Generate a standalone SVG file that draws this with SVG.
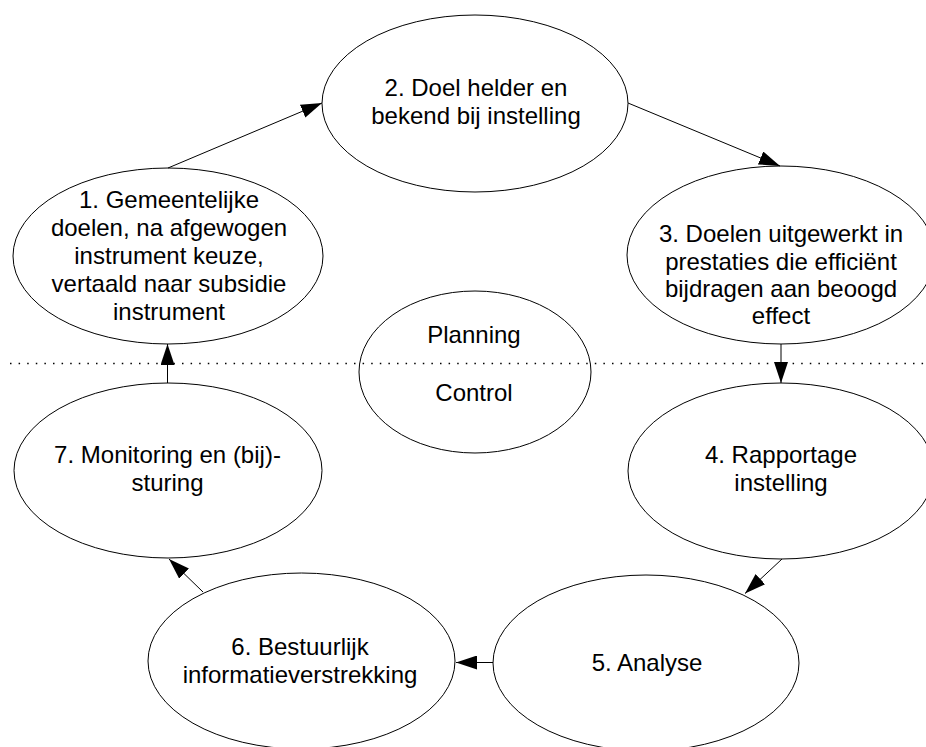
<svg xmlns="http://www.w3.org/2000/svg" width="926" height="747" viewBox="0 0 926 747">
<style>
.node ellipse{fill:#fff;stroke:#000;stroke-width:1}
text{font-family:"Liberation Sans",Arial,sans-serif;font-size:24px;fill:#000;text-anchor:middle}
.conn line{stroke:#000;stroke-width:1;marker-end:url(#arr)}
.sep{stroke:#000;stroke-width:1.5;stroke-dasharray:1.5 7.1;fill:none}
</style>
<defs>
<marker id="arr" markerUnits="userSpaceOnUse" markerWidth="21" markerHeight="14" refX="21" refY="7" orient="auto">
<path d="M0,0 L21,7 L0,14 z" fill="#000"/>
</marker>
</defs>
<rect width="926" height="747" fill="#fff"/>
<g id="center">
<ellipse cx="475" cy="372" rx="116" ry="81" class="" fill="#fff" stroke="#000" stroke-width="1"/>
<text x="474" y="343">Planning</text>
<text x="474" y="401">Control</text>
</g>
<line class="sep" x1="10" y1="363.5" x2="926" y2="363.5"/>
<g id="n1" class="node">
<ellipse cx="168" cy="256" rx="155" ry="88"/>
<text x="169" y="208">1. Gemeentelijke</text>
<text x="169" y="236">doelen, na afgewogen</text>
<text x="169" y="264">instrument keuze,</text>
<text x="169" y="292">vertaald naar subsidie</text>
<text x="169" y="320">instrument</text>
</g>
<g id="n2" class="node">
<ellipse cx="475" cy="103.5" rx="153" ry="88.5"/>
<text x="476" y="96">2. Doel helder en</text>
<text x="476" y="124">bekend bij instelling</text>
</g>
<g id="n3" class="node">
<ellipse cx="781" cy="255" rx="154" ry="89"/>
<text x="781" y="242">3. Doelen uitgewerkt in</text>
<text x="781" y="269.5">prestaties die efficiënt</text>
<text x="781" y="297">bijdragen aan beoogd</text>
<text x="781" y="324">effect</text>
</g>
<g id="n4" class="node">
<ellipse cx="781" cy="471" rx="153" ry="88"/>
<text x="781" y="463">4. Rapportage</text>
<text x="781" y="491">instelling</text>
</g>
<g id="n5" class="node">
<ellipse cx="646" cy="663" rx="153" ry="88"/>
<text x="647" y="671">5. Analyse</text>
</g>
<g id="n6" class="node">
<ellipse cx="301.5" cy="661" rx="153.5" ry="88"/>
<text x="300" y="655">6. Bestuurlijk</text>
<text x="300" y="683">informatieverstrekking</text>
</g>
<g id="n7" class="node">
<ellipse cx="168" cy="470.5" rx="154" ry="87.5"/>
<text x="167.5" y="463">7. Monitoring en (bij)-</text>
<text x="167.5" y="491">sturing</text>
</g>
<g id="connectors" class="conn">
<line x1="168" y1="168" x2="322" y2="103"/>
<line x1="628" y1="103" x2="780" y2="166"/>
<line x1="781" y1="344" x2="781" y2="383"/>
<line x1="782" y1="559" x2="745" y2="593.5"/>
<line x1="493" y1="662.5" x2="456" y2="662.5"/>
<line x1="203" y1="592" x2="169" y2="559"/>
<line x1="167.5" y1="383" x2="167.5" y2="344"/>
</g>
</svg>
